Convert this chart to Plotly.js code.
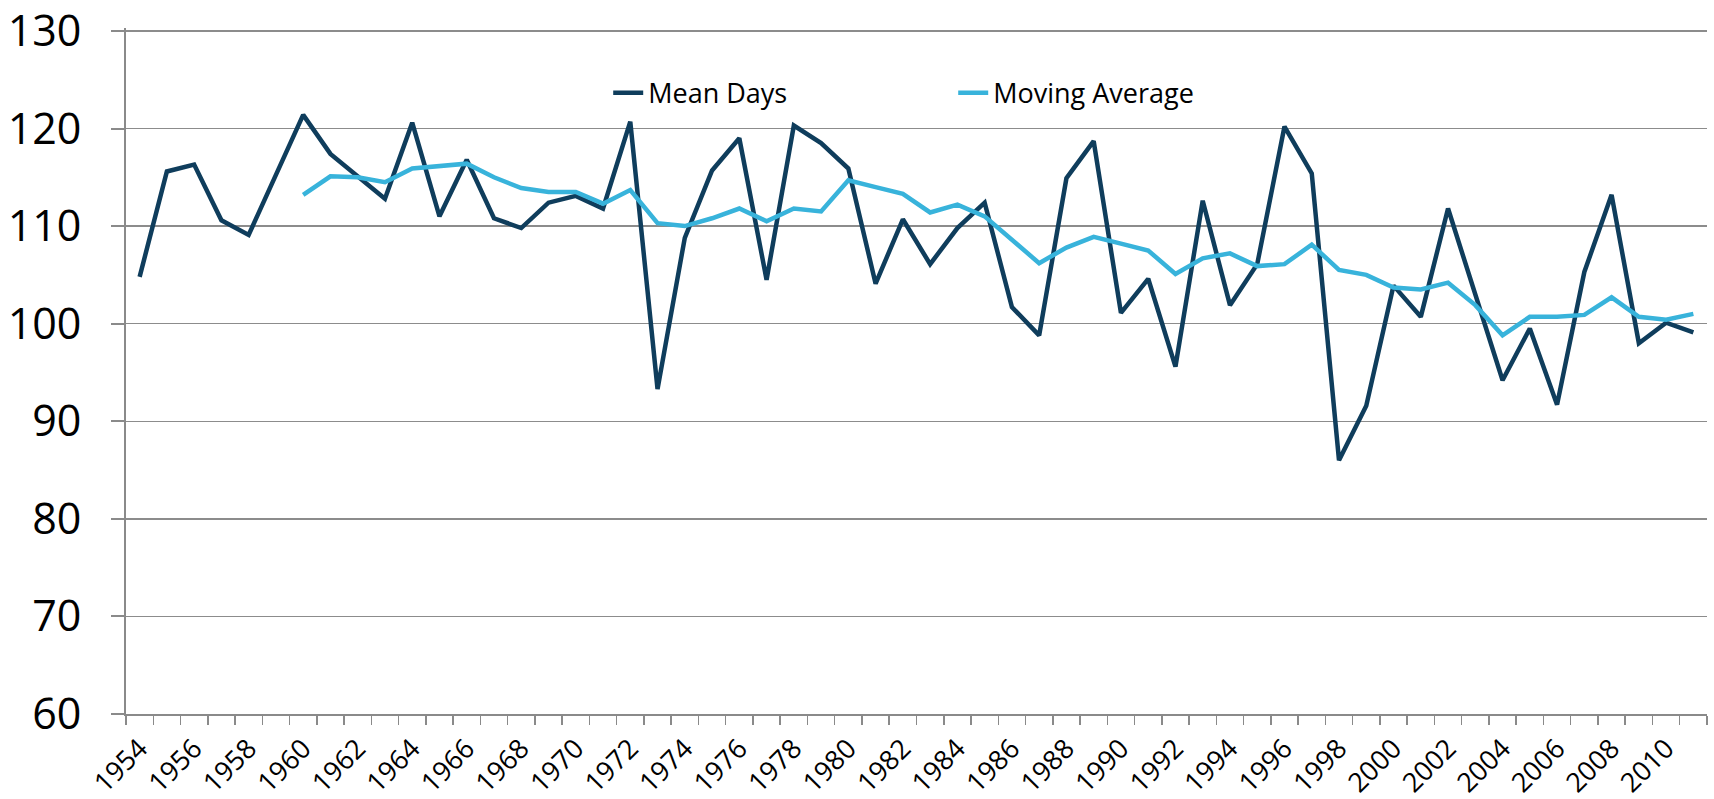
<!DOCTYPE html>
<html>
<head>
<meta charset="utf-8">
<script src="https://cdn.plot.ly/plotly-3.0.1.min.js"></script>
<style>
  html, body { margin: 0; padding: 0; background: #fff; }
  #plot { width: 1714px; height: 799px; }
</style>
</head>
<body>
<div id="plot"></div>
<script>
// Data
var years = [1954, 1955, 1956, 1957, 1958, 1959, 1960, 1961, 1962, 1963,
  1964, 1965, 1966, 1967, 1968, 1969, 1970, 1971, 1972, 1973,
  1974, 1975, 1976, 1977, 1978, 1979, 1980, 1981, 1982, 1983,
  1984, 1985, 1986, 1987, 1988, 1989, 1990, 1991, 1992, 1993,
  1994, 1995, 1996, 1997, 1998, 1999, 2000, 2001, 2002, 2003,
  2004, 2005, 2006, 2007, 2008, 2009, 2010, 2011];

var meanDays = [104.8, 115.6, 116.3, 110.6, 109.1, 115.3, 121.4, 117.4, 115.1, 112.8,
  120.6, 111.0, 116.8, 110.8, 109.8, 112.4, 113.1, 111.8, 120.7, 93.3,
  108.8, 115.7, 119.0, 104.5, 120.3, 118.5, 115.9, 104.1, 110.7, 106.1,
  109.8, 112.4, 101.7, 98.8, 114.9, 118.7, 101.1, 104.6, 95.6, 112.6,
  101.9, 106.1, 120.2, 115.4, 86.0, 91.6, 103.9, 100.7, 111.8, 102.9,
  94.2, 99.5, 91.7, 105.3, 113.2, 98.0, 100.1, 99.1];

var movingAvg = [null, null, null, null, null, null, 113.2, 115.1, 115.0, 114.5,
  115.9, 116.2, 116.4, 115.0, 113.9, 113.5, 113.5, 112.3, 113.7, 110.3,
  110.0, 110.8, 111.8, 110.5, 111.8, 111.5, 114.7, 114.0, 113.3, 111.4,
  112.2, 111.0, 108.6, 106.2, 107.8, 108.9, 108.2, 107.5, 105.1, 106.7,
  107.2, 105.9, 106.1, 108.1, 105.5, 105.0, 103.7, 103.5, 104.2, 101.9,
  98.8, 100.7, 100.7, 100.9, 102.7, 100.7, 100.4, 101.0];

var yTicks = [60, 70, 80, 90, 100, 110, 120, 130];

var labelYears = [];
for (var i = 1954; i <= 2010; i += 2) labelYears.push(i);

var trace1 = {
  x: years,
  y: meanDays,
  mode: "lines",
  type: "scatter",
  name: "Mean Days",
  line: { color: "#0f3d5c", width: 4.5 }
};

var trace2 = {
  x: years,
  y: movingAvg,
  mode: "lines",
  type: "scatter",
  name: "Moving Average",
  line: { color: "#38b3db", width: 4.5 }
};

var layout = {
  width: 1714,
  height: 799,
  margin: { l: 126, r: 7, t: 28, b: 85 },
  paper_bgcolor: "#fff",
  plot_bgcolor: "#fff",
  font: { family: "Open Sans, sans-serif", color: "#000" },
  showlegend: true,
  legend: {
    orientation: "h",
    x: 0.305, xanchor: "left",
    y: 0.905, yanchor: "middle",
    bgcolor: "rgba(0,0,0,0)",
    font: { size: 27, color: "#000" },
    entrywidth: 300,
    entrywidthmode: "pixels"
  },
  xaxis: {
    range: [1953.5, 2011.5],
    tickmode: "array",
    tickvals: labelYears,
    ticktext: labelYears.map(String),
    tickangle: -45,
    tickfont: { size: 27 },
    ticks: "",
    ticklabelstandoff: 6,
    ticklabeloverflow: "allow",
    showgrid: false,
    zeroline: false,
    showline: true,
    linecolor: "#8a8a8a",
    linewidth: 2,
    minor: {
      ticks: "outside",
      tick0: 1953.5,
      dtick: 1,
      ticklen: 9,
      tickwidth: 1.5,
      tickcolor: "#8a8a8a",
      showgrid: false
    }
  },
  yaxis: {
    range: [60, 130.3],
    tickmode: "array",
    tickvals: yTicks,
    ticktext: yTicks.map(String),
    tickfont: { size: 43 },
    ticks: "outside",
    ticklen: 13,
    tickwidth: 2,
    tickcolor: "#8a8a8a",
    ticklabelstandoff: 21,
    ticklabeloverflow: "allow",
    showgrid: true,
    gridcolor: "#8c8c8c",
    gridwidth: 1.5,
    zeroline: false,
    showline: true,
    linecolor: "#8a8a8a",
    linewidth: 2
  }
};

Plotly.newPlot("plot", [trace1, trace2], layout, { displayModeBar: false, staticPlot: true });
</script>
</body>
</html>
